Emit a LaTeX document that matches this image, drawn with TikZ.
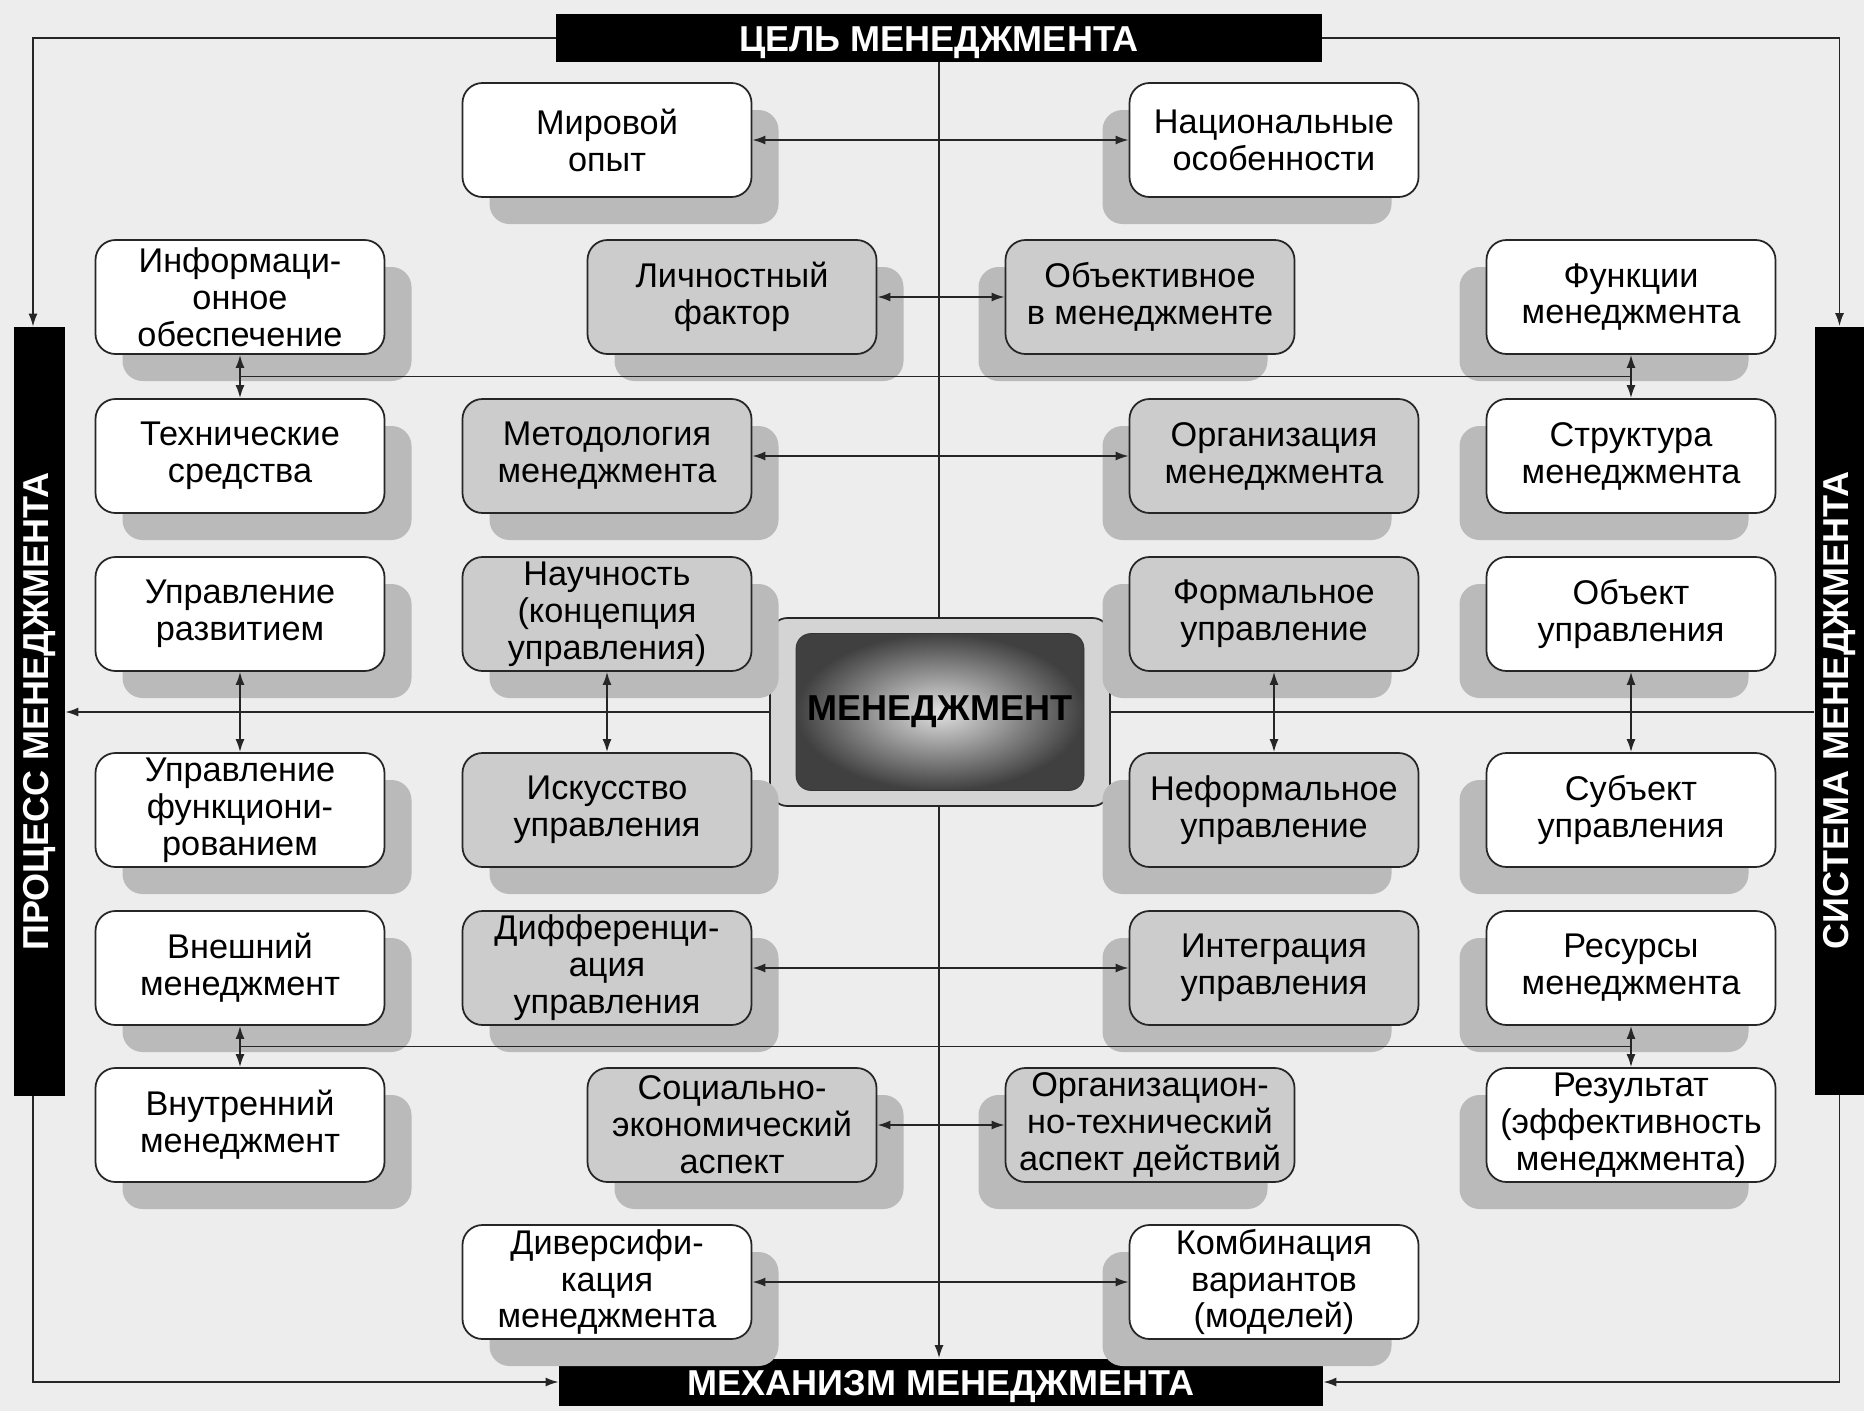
\documentclass[tikz,border=0pt]{standalone}
\usepackage{fontspec}
\setmainfont{Liberation Sans}
\usepackage{graphicx}
\usepackage{tikz}
\usetikzlibrary{arrows.meta}
\usetikzlibrary{calc}
\usetikzlibrary{shadows}
\newcommand{\boxfont}{\fontsize{19.5}{21}\selectfont}
\newcommand{\barfont}{\fontsize{20.5}{22}\selectfont\bfseries}
\tikzstyle{block} = [draw=black!85, fill=white, line width=1pt,
	rounded corners=0.4cm, align=center, inner sep=0pt,
	minimum width=5.78cm, minimum height=2.28cm, font=\boxfont]
\tikzstyle{tinted} = [fill=black!20]
\tikzstyle{lshadow} = [drop shadow={shadow xshift=0.54cm, shadow yshift=-0.54cm, fill=black!27, opacity=1}]
\tikzstyle{rshadow} = [drop shadow={shadow xshift=-0.54cm, shadow yshift=-0.54cm, fill=black!27, opacity=1}]
\tikzstyle{banner} = [fill=black, text=white, inner sep=0pt, font=\barfont]
\tikzstyle{flat} = [text height=14.8pt, text depth=0pt]
\tikzstyle{conn} = [line width=1pt, draw=black!85]
\tikzstyle{arrow} = [-{Latex[length=2.6mm, width=1.8mm]}, line width=1pt, draw=black!85]
\tikzstyle{darrow} = [{Latex[length=2.6mm, width=1.8mm]}-{Latex[length=2.6mm, width=1.8mm]}, line width=1pt, draw=black!85]
\newcommand{\drawcore}[2]{\node[draw=black!85, line width=1pt,
	fill=black!17,
	rounded corners=0.35cm,
	minimum width=6.8cm, minimum height=3.76cm
	] (#1) at #2 {};
	\node[draw=black!80, rounded corners=0.3cm, inner color=black!12, outer color=black!75,
	minimum width=5.76cm, minimum height=3.14cm, font=\barfont] (#1in) at #2 {МЕНЕДЖМЕНТ}}

\begin{document}
\begin{tikzpicture}
			\fill[black!7] (0,0) rectangle (37.28,-28.22);
			\useasboundingbox (0,0) rectangle (37.28,-28.22);
			
			%рамка
			\node (goal) [banner, flat, minimum width=15.32cm, minimum height=0.96cm] at (18.78,-0.76) {ЦЕЛЬ МЕНЕДЖМЕНТА};
			\node (mech) [banner, flat, minimum width=15.28cm, minimum height=0.94cm] at (18.82,-27.64) {МЕХАНИЗМ МЕНЕДЖМЕНТА};
			\node (proc) [banner, minimum width=1.02cm, minimum height=15.38cm] at (0.79,-14.23) {\rotatebox{90}{ПРОЦЕСС МЕНЕДЖМЕНТА}};
			\node (sys) [banner, minimum width=1.0cm, minimum height=15.36cm] at (36.79,-14.21) {\rotatebox{90}{СИСТЕМА МЕНЕДЖМЕНТА}};
			\draw [arrow] (goal.west) -| ([xshift=-0.13cm]proc.north);
			\draw [arrow] (goal.east) -| (sys.north);
			\draw [arrow] ([xshift=-0.13cm]proc.south) |- (mech.west);
			\draw [arrow] (sys.south) |- (mech.east);
			
			\drawcore{core}{(18.8,-14.24)};
			
			%левая колонка
			\node (info) [block, lshadow] at (4.8,-5.94) {Информаци-\\онное\\обеспечение};
			\node (tech) [block, lshadow] at (4.8,-9.12) {Технические\\средства};
			\node (devel) [block, lshadow] at (4.8,-12.28) {Управление\\развитием};
			\node (funct) [block, lshadow] at (4.8,-16.2) {Управление\\функциони-\\рованием};
			\node (extm) [block, lshadow] at (4.8,-19.36) {Внешний\\менеджмент};
			\node (intm) [block, lshadow] at (4.8,-22.5) {Внутренний\\менеджмент};
			
			\node (world) [block, lshadow] at (12.14,-2.8) {Мировой\\опыт};
			\node (person) [block, tinted, lshadow] at (14.64,-5.94) {Личностный\\фактор};
			\node (method) [block, tinted, lshadow] at (12.14,-9.12) {Методология\\менеджмента};
			\node (science) [block, tinted, lshadow] at (12.14,-12.28) {Научность\\(концепция\\управления)};
			\node (art) [block, tinted, lshadow] at (12.14,-16.2) {Искусство\\управления};
			\node (diff) [block, tinted, lshadow] at (12.14,-19.36) {Дифференци-\\ация\\управления};
			\node (social) [block, tinted, lshadow] at (14.64,-22.5) {Социально-\\экономический\\аспект};
			\node (divers) [block, lshadow] at (12.14,-25.64) {Диверсифи-\\кация\\менеджмента};
			
			%правая колонка
			\node (nation) [block, rshadow] at (25.48,-2.8) {Национальные\\особенности};
			\node (object) [block, tinted, rshadow] at (23.0,-5.94) {Объективное\\в менеджменте};
			\node (organ) [block, tinted, rshadow] at (25.48,-9.12) {Организация\\менеджмента};
			\node (formal) [block, tinted, rshadow] at (25.48,-12.28) {Формальное\\управление};
			\node (informal) [block, tinted, rshadow] at (25.48,-16.2) {Неформальное\\управление};
			\node (integr) [block, tinted, rshadow] at (25.48,-19.36) {Интеграция\\управления};
			\node (orgtech) [block, tinted, rshadow] at (23.0,-22.5) {Организацион-\\но-технический\\аспект действий};
			\node (combo) [block, rshadow] at (25.48,-25.64) {Комбинация\\вариантов\\(моделей)};
			
			\node (func) [block, rshadow] at (32.62,-5.94) {Функции\\менеджмента};
			\node (struct) [block, rshadow] at (32.62,-9.12) {Структура\\менеджмента};
			\node (objm) [block, rshadow] at (32.62,-12.28) {Объект\\управления};
			\node (subj) [block, rshadow] at (32.62,-16.2) {Субъект\\управления};
			\node (resrc) [block, rshadow] at (32.62,-19.36) {Ресурсы\\менеджмента};
			\node (result) [block, rshadow] at (32.62,-22.5) {Результат\\(эффективность\\менеджмента)};
			
			%оси
			\draw [conn] (goal.south) -- (goal.south |- core.north);
			\draw [arrow] (goal.south |- core.south) -- (goal.south |- mech.north);
			\draw [arrow] (core.west) -- (proc.east |- core.west);
			\draw [conn] (core.east) -- (sys.west |- core.east);
			
			%пары
			\draw [darrow] (world) -- (nation);
			\draw [darrow] (person) -- (object);
			\draw [darrow] (method) -- (organ);
			\draw [darrow] (diff) -- (integr);
			\draw [darrow] (social) -- (orgtech);
			\draw [darrow] (divers) -- (combo);
			
			\draw [darrow] (info) -- (tech);
			\draw [darrow] (func) -- (struct);
			\draw [darrow] (devel) -- (funct);
			\draw [darrow] (science) -- (art);
			\draw [darrow] (formal) -- (informal);
			\draw [darrow] (objm) -- (subj);
			\draw [darrow] (extm) -- (intm);
			\draw [darrow] (resrc) -- (result);
			
			\coordinate (jl1) at ($(info.south)!0.5!(tech.north)$);
			\coordinate (jr1) at ($(func.south)!0.5!(struct.north)$);
			\draw [conn] (jl1) -- (jr1);
			\coordinate (jl2) at ($(extm.south)!0.5!(intm.north)$);
			\coordinate (jr2) at ($(resrc.south)!0.5!(result.north)$);
			\draw [conn] (jl2) -- (jr2);
		\end{tikzpicture}
\end{document}
